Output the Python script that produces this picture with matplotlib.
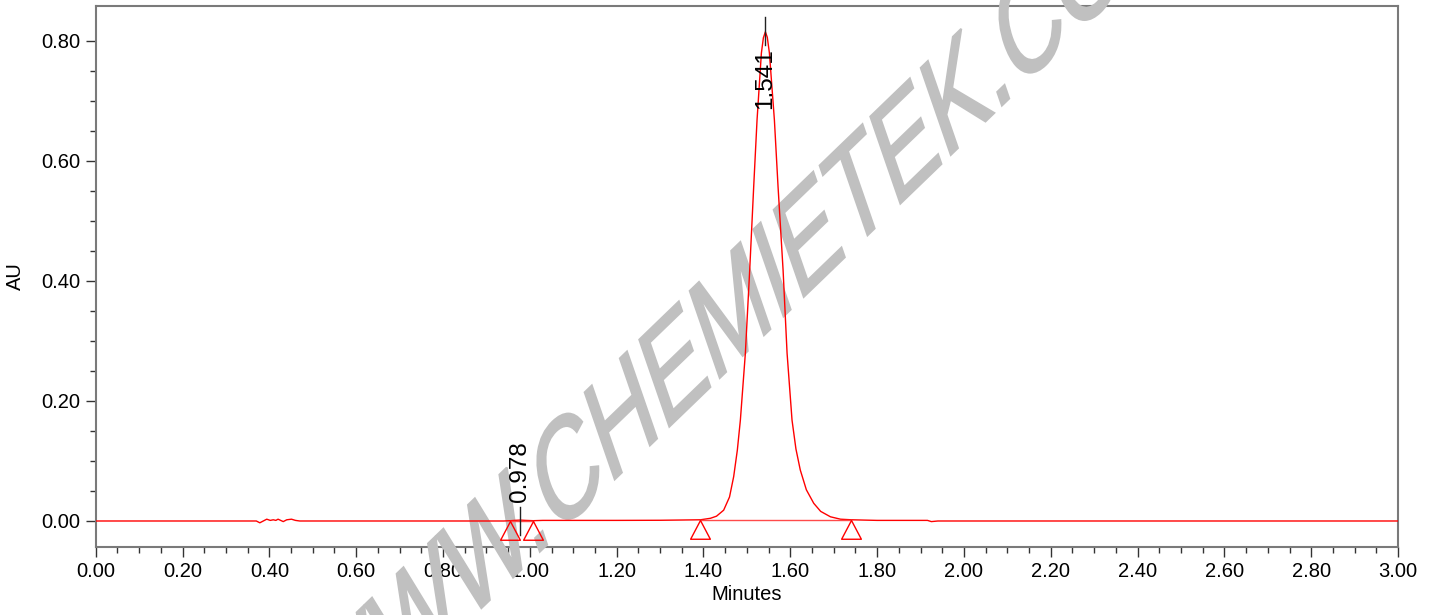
"""Chromatogram with peak labels and a watermark."""

import matplotlib
matplotlib.use('Agg')
import matplotlib.pyplot as plt
from matplotlib.font_manager import FontProperties
from matplotlib.patches import PathPatch
from matplotlib.textpath import TextPath
from matplotlib.transforms import Affine2D

# detector trace (minutes, AU)
trace_time = [0.00, 0.37, 0.378, 0.386, 0.394, 0.402, 0.409, 0.415, 0.420,
              0.426, 0.432, 0.440, 0.451, 0.460, 0.470, 0.940, 0.955, 0.965,
              0.978, 0.990, 1.008, 1.030, 1.200, 1.300, 1.393, 1.416, 1.430,
              1.4465, 1.460, 1.4696, 1.478, 1.485, 1.4965, 1.5065, 1.5157,
              1.5234, 1.5334, 1.538, 1.5426, 1.547, 1.5519, 1.5634, 1.5718,
              1.5834, 1.5926, 1.604, 1.613, 1.623, 1.637, 1.654, 1.670,
              1.6925, 1.7156, 1.741, 1.800, 1.900, 1.916, 1.925, 1.940,
              1.950, 2.000, 3.000]
trace_au = [0.0, 0.0, -0.003, 0.0, 0.003, 0.001, 0.002, 0.001, 0.003,
            0.001, -0.001, 0.002, 0.003, 0.001, 0.0, 0.0, 0.0005, 0.001,
            0.0015, 0.001, 0.0005, 0.001, 0.001, 0.0012, 0.002, 0.0045, 0.008,
            0.018, 0.040, 0.074, 0.118, 0.168, 0.2795, 0.418, 0.557,
            0.668, 0.7795, 0.805, 0.815, 0.806, 0.7795, 0.668, 0.557,
            0.418, 0.2795, 0.168, 0.120, 0.085, 0.052, 0.0295, 0.016,
            0.007, 0.003, 0.002, 0.001, 0.001, 0.001, -0.001, 0.0,
            0.0, 0.0, 0.0]

# integration limits (start, end) and baseline level for each peak
peak_start = [0.955, 1.393]
peak_end = [1.008, 1.741]
peak_base = [0.0, 0.002]

# retention time labels
rt_labels = [0.978, 1.541]

x_ticks = [0.0, 0.2, 0.4, 0.6, 0.8, 1.0, 1.2, 1.4, 1.6, 1.8, 2.0, 2.2, 2.4,
           2.6, 2.8, 3.0]
y_ticks = [0.0, 0.2, 0.4, 0.6, 0.8]

FONT = 'Liberation Sans'
TRI = [(0, 0), (-1, -1.9), (1, -1.9), (0, 0)]


def draw_chromatogram():
    fig = plt.figure(figsize=(14.33, 6.15), dpi=100)
    ax = fig.add_axes([0.0668, 0.1106, 0.9088, 0.8796])

    ax.plot(trace_time, trace_au, color='#ff0000', lw=1.0, zorder=3)

    # integration baselines and their start / end markers
    for s, e, b in zip(peak_start, peak_end, peak_base):
        ax.plot([s, e], [b, b], color='#ff4a4a', lw=1.0, zorder=3)
        ax.plot([s, e], [b, b], ls='none', marker=TRI, ms=27,
                mfc='none', mec='#ff0000', mew=1.0, zorder=3)

    # retention time labels
    small, big = rt_labels
    ax.plot([small, small], [-0.024, 0.023], color='#222222', lw=1.0, zorder=4)
    ax.text(small, 0.032, f'{small:.3f}', rotation=90, ha='center',
            va='bottom', fontsize=17.5, family=FONT, zorder=4)
    ax.plot([big, big], [0.793, 0.840], color='#222222', lw=1.0, zorder=4)
    ax.text(big, 0.787, f'{big:.3f}', rotation=90, ha='center',
            va='top', fontsize=17.5, family=FONT, zorder=4)

    ax.set_xlim(0, 3.0)
    ax.set_ylim(-0.0433, 0.858)
    ax.set_xticks(x_ticks)
    ax.set_xticklabels([f'{v:.2f}' for v in x_ticks])
    ax.set_xticks([v / 20 for v in range(61)], minor=True)
    ax.set_yticks(y_ticks)
    ax.set_yticklabels([f'{v:.2f}' for v in y_ticks])
    ax.set_yticks([v / 20 for v in range(17)], minor=True)

    ax.tick_params(which='both', direction='out', color='#333333', width=1.0,
                   labelsize=14.5)
    ax.tick_params(which='major', length=7, pad=4)
    ax.tick_params(which='minor', length=4.5)
    for lab in ax.get_xticklabels() + ax.get_yticklabels():
        lab.set_family(FONT)
    for sp in ax.spines.values():
        sp.set_color('#7a7a7a')
        sp.set_linewidth(1.5)

    ax.set_xlabel('Minutes', fontsize=14.5, family=FONT, labelpad=3)
    ax.set_ylabel('AU', fontsize=14.5, family=FONT, labelpad=12)

    # watermark, squeezed sideways like in the source image
    tp = TextPath((0, 0), 'WWW.CHEMIETEK.COM', size=146,
                  prop=FontProperties(family=FONT))
    tr = Affine2D().rotate_deg(30).scale(0.598, 1.0).translate(323, -146)
    mark = PathPatch(tp, facecolor='#c0c0c0', edgecolor='#c0c0c0', lw=1.5,
                     transform=tr, clip_on=False, zorder=2.6)
    ax.add_patch(mark)

    fig.savefig('out.png', dpi=100)


if __name__ == '__main__':
    draw_chromatogram()
